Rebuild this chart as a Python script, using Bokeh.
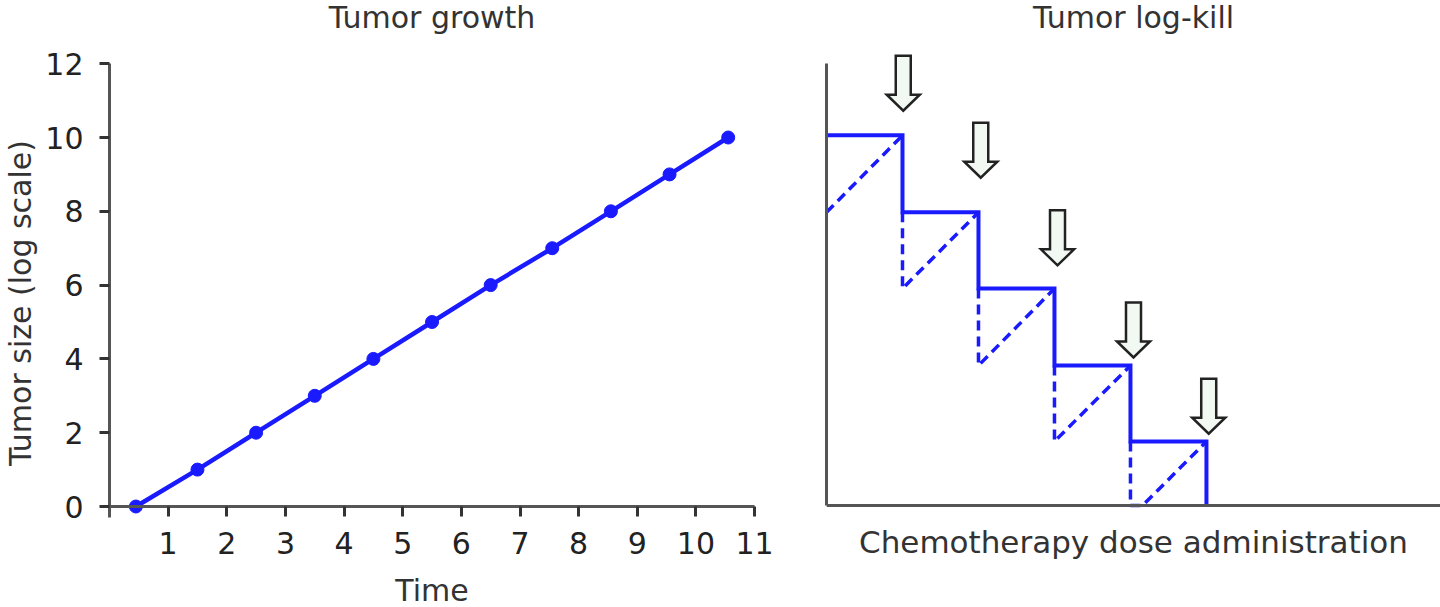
from bokeh.plotting import figure
from bokeh.layouts import row
from bokeh.models import Range1d, FixedTicker, Label
from bokeh.embed import file_html
from bokeh.resources import INLINE

# ---------------- data ----------------
# Left panel: tumor growth
growth_time = [0.45, 1.5, 2.5, 3.5, 4.5, 5.5, 6.5, 7.55, 8.55, 9.55, 10.55]
growth_size = [0, 1, 2, 3, 4, 5, 6, 7, 8, 9, 10]
x_ticks = [1, 2, 3, 4, 5, 6, 7, 8, 9, 10, 11]
y_ticks = [0, 2, 4, 6, 8, 10, 12]

# Right panel: tumor log-kill
dose_times = [1, 2, 3, 4, 5]
level_before_dose = [10.05, 7.96, 5.89, 3.80, 1.74]
regrow_start_x = [0, 1, 2, 3, 4.16]
regrow_start_y = [7.96, 5.89, 3.80, 1.74, 0.0]
arrow_x = [1.01, 2.03, 3.04, 4.04, 5.03]
arrow_tip_y = [10.72, 8.90, 6.52, 4.02, 1.95]

titles = ["Tumor growth", "Tumor log-kill"]

FONT = "DejaVu Sans"
BLUE = "#1a1aff"
AXIS = "#555555"
TXT = "#333333"
TITLE_BASELINE_PX = 17   # title anchor, from top of canvas
H = 607
BOT = 2                  # frames span canvas y 0 .. H-BOT in both panels

# ---------------- left figure ----------------
L_W = 790
L_LEFT, L_RIGHT = 108, 2
L_ZERO_PX = 506          # canvas y of value 0
L_PPY = 36.9             # pixels per unit (y)
L_PPX = 58.73            # pixels per unit (x)
L_YMIN = -(H - BOT - L_ZERO_PX) / L_PPY
L_YMAX = L_ZERO_PX / L_PPY
L_XMAX = (L_W - L_LEFT - L_RIGHT) / L_PPX
p1 = figure(width=L_W, height=H, output_backend="svg", toolbar_location=None,
            x_range=Range1d(0, L_XMAX), y_range=Range1d(L_YMIN, L_YMAX),
            min_border_left=L_LEFT, min_border_right=L_RIGHT,
            min_border_top=0, min_border_bottom=BOT)
p1.grid.visible = False
p1.outline_line_color = None

p1.line(growth_time, growth_size, line_color=BLUE, line_width=4.5)
p1.scatter(growth_time, growth_size, size=13, fill_color=BLUE, line_color=BLUE)

xa = p1.xaxis[0]
xa.fixed_location = 0
xa.bounds = (0, 11)
xa.ticker = FixedTicker(ticks=x_ticks)
xa.major_label_standoff = 15
xa.axis_label = "Time"
xa.axis_label_standoff = 16

ya = p1.yaxis[0]
ya.ticker = FixedTicker(ticks=y_ticks)
ya.bounds = (-0.3, 12)
ya.axis_label = "Tumor size (log scale)"
ya.axis_label_standoff = 4
ya.major_label_standoff = 16

for ax in (xa, ya):
    ax.axis_line_color = AXIS
    ax.axis_line_width = 3
    ax.major_tick_line_color = "#333333"
    ax.major_tick_line_width = 3
    ax.major_tick_out = 10
    ax.major_tick_in = 0
    ax.minor_tick_line_color = None
    ax.major_label_text_font = FONT
    ax.major_label_text_font_size = "30px"
    ax.major_label_text_color = "#222222"
    ax.axis_label_text_font = FONT
    ax.axis_label_text_font_size = "30px"
    ax.axis_label_text_font_style = "normal"
    ax.axis_label_text_color = TXT

p1.add_layout(Label(x=5.5, y=(L_ZERO_PX - TITLE_BASELINE_PX) / L_PPY, text=titles[0],
                    text_align="center", text_baseline="alphabetic",
                    text_font=FONT, text_font_size="30px", text_color=TXT))

# ---------------- right figure ----------------
R_W = 650
R_LEFT = 36
R_XMAX = 8.08
R_ZERO_PX = 505
R_PPY = 36.83
R_YMIN = -(H - BOT - R_ZERO_PX) / R_PPY
R_YMAX = R_ZERO_PX / R_PPY
p2 = figure(width=R_W, height=H, output_backend="svg", toolbar_location=None,
            x_range=Range1d(0, R_XMAX), y_range=Range1d(R_YMIN, R_YMAX),
            min_border_left=R_LEFT, min_border_right=0,
            min_border_top=0, min_border_bottom=BOT)
p2.grid.visible = False
p2.outline_line_color = None

# solid step line
step_x = [0]
step_y = [level_before_dose[0]]
for k, d in enumerate(dose_times):
    nxt = level_before_dose[k + 1] if k + 1 < len(level_before_dose) else 0.0
    step_x += [d, d]
    step_y += [level_before_dose[k], nxt]
p2.line(step_x, step_y, line_color=BLUE, line_width=4, line_join="miter")

# dashed regrowth lines
dash_xs = [[regrow_start_x[0], dose_times[0]]]
dash_ys = [[regrow_start_y[0], level_before_dose[0]]]
for k in range(1, len(dose_times)):
    d_prev = dose_times[k - 1]
    xs = [d_prev, d_prev]
    ys = [level_before_dose[k], regrow_start_y[k]]
    if regrow_start_x[k] != d_prev:
        xs.append(regrow_start_x[k])
        ys.append(regrow_start_y[k])
    xs.append(dose_times[k])
    ys.append(level_before_dose[k])
    dash_xs.append(xs)
    dash_ys.append(ys)
p2.multi_line(dash_xs, dash_ys, line_color=BLUE, line_width=3.5, line_dash="10 6")

# hollow block arrows (shape in pixels, converted to data units)
ppx = (R_W - R_LEFT) / R_XMAX
half_shaft = 7.5 / ppx
half_head = 16.5 / ppx
head_len = 16 / R_PPY
total_len = 55 / R_PPY
arr_xs, arr_ys = [], []
for cx, ty in zip(arrow_x, arrow_tip_y):
    arr_xs.append([cx - half_shaft, cx + half_shaft, cx + half_shaft, cx + half_head,
                   cx, cx - half_head, cx - half_shaft])
    arr_ys.append([ty + total_len, ty + total_len, ty + head_len, ty + head_len,
                   ty, ty + head_len, ty + head_len])
p2.patches(arr_xs, arr_ys, fill_color="#f2f8f2", line_color="#222222", line_width=2.5,
           line_join="miter")

xb = p2.xaxis[0]
xb.fixed_location = 0
xb.ticker = FixedTicker(ticks=[])
xb.axis_label = "Chemotherapy dose administration"
xb.axis_label_standoff = 18
xb.axis_label_text_font = FONT
xb.axis_label_text_font_size = "31px"
xb.axis_label_text_font_style = "normal"
xb.axis_label_text_color = TXT

yb = p2.yaxis[0]
yb.ticker = FixedTicker(ticks=[])
yb.bounds = (0, 12)
for ax in (xb, yb):
    ax.axis_line_color = AXIS
    ax.axis_line_width = 3
    ax.major_tick_line_color = None
    ax.minor_tick_line_color = None
    ax.major_tick_out = 0
    ax.major_tick_in = 0
    ax.major_label_standoff = 0

p2.add_layout(Label(x=R_XMAX / 2, y=(R_ZERO_PX - TITLE_BASELINE_PX) / R_PPY, text=titles[1],
                    text_align="center", text_baseline="alphabetic",
                    text_font=FONT, text_font_size="30px", text_color=TXT))

layout = row(p1, p2)
open("out.html", "w").write(file_html(layout, INLINE))
